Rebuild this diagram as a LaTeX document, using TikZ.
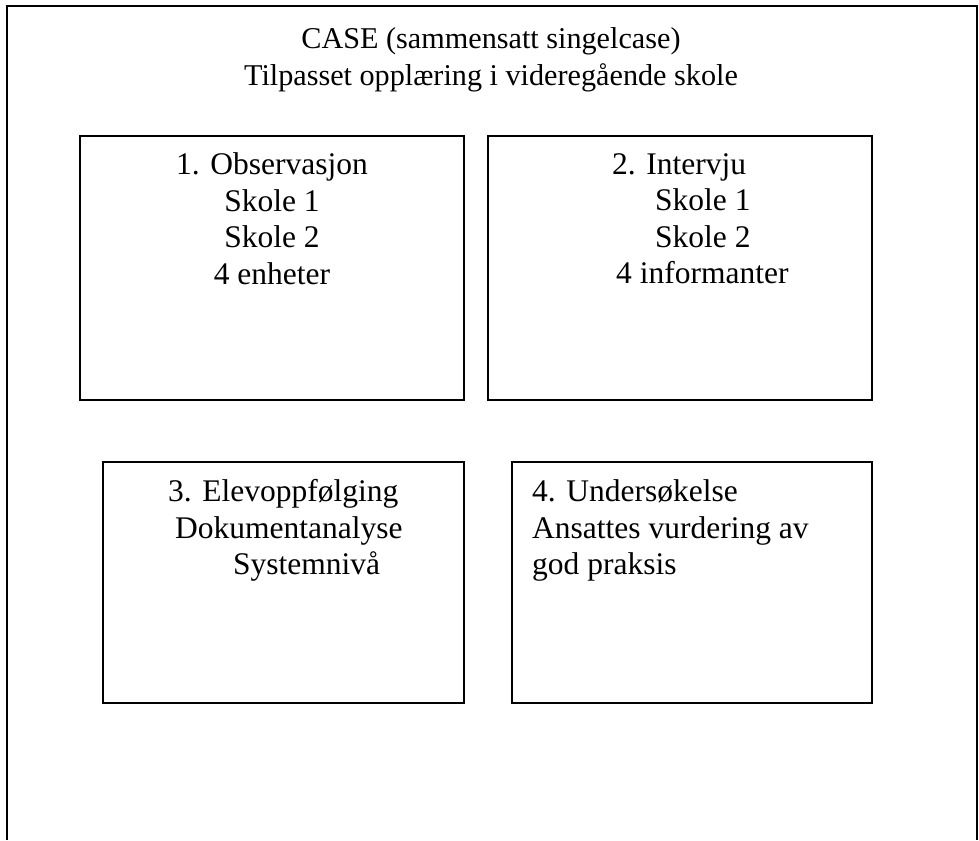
\documentclass[tikz,border=0pt]{standalone}
\usepackage{fontspec}
\setmainfont{Liberation Serif}
\usetikzlibrary{positioning}

\tikzset{
  boxframe/.style={draw=black, line width=2pt, rectangle, inner sep=0pt},
  boxtext/.style={inner sep=0pt, font=\fontsize{31.5}{36.5}\selectfont},
}

\begin{document}
\begin{tikzpicture} [x=1pt, y=-1pt]
\useasboundingbox (0,0) rectangle (979,840);
% outer frame, open at the bottom
\draw[black, line width=2pt] (7,840) -- (7,6) -- (977,6) -- (977,840);
\node[boxtext, font=\fontsize{30.2}{37}\selectfont, align=center, anchor=north] (title) at (491,27)
  {CASE (sammensatt singelcase)\\Tilpasset opplæring i videregående skole};
\foreach \name/\cx/\cy/\w/\h in {obs/272/268/384/264, int/680/268/384/264,
  elev/283.5/582.5/361/241, und/692/582.5/360/241} {
 \node[boxframe, minimum width=\w pt, minimum height=\h pt] (\name) at (\cx,\cy) {};
}
\node[boxtext, align=center, below=17.5pt of obs.north] (obstext)
  {1. Observasjon\\Skole 1\\Skole 2\\4 enheter};
\node[boxtext, align=left, below right=18pt and 125pt of int.north west] (inttext)
  {2. Intervju\\\hspace*{43pt}Skole 1\\\hspace*{43pt}Skole 2\\\hspace*{4pt}4 informanter};
\node[boxtext, align=left, below right=18.5pt and 66pt of elev.north west] (elevtext)
  {3. Elevoppfølging\\\hspace*{7pt}Dokumentanalyse\\\hspace*{65pt}Systemnivå};
\node[boxtext, align=left, below right=18.5pt and 21pt of und.north west] (undtext)
  {4. Undersøkelse\\Ansattes vurdering av\\god praksis};
\end{tikzpicture}
\end{document}
